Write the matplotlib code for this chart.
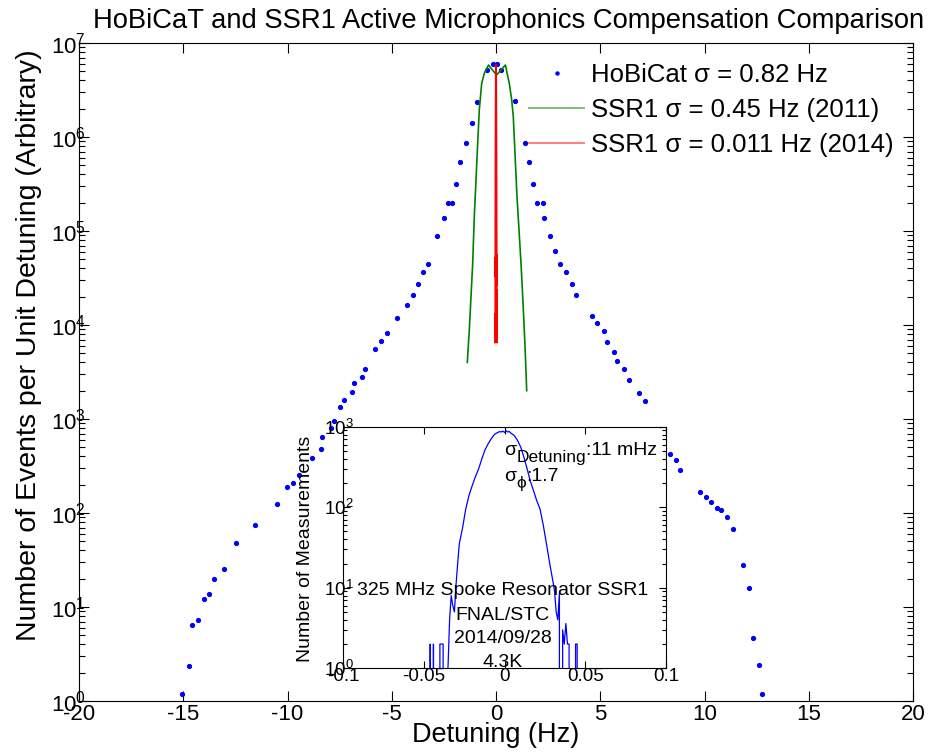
import matplotlib
matplotlib.use("Agg")
import matplotlib.pyplot as plt
import numpy as np
from matplotlib.ticker import FixedLocator, FixedFormatter, LogLocator, NullFormatter

plt.rcParams["font.family"] = ["Liberation Sans", "DejaVu Sans"]
plt.rcParams["mathtext.fontset"] = "custom"
plt.rcParams["mathtext.rm"] = "Liberation Sans"
plt.rcParams["mathtext.it"] = "Liberation Sans:italic"
plt.rcParams["axes.unicode_minus"] = False

# HoBiCaT detuning histogram (Hz, events per unit detuning)
hobicat_x = [-15.06, -14.74, -14.57, -14.28, -14.00, -13.78, -13.54, -13.06, -12.46, -11.54,
             -10.49, -10.01, -9.75, -9.46, -8.81, -8.41, -8.33, -7.91, -7.78, -7.47,
             -7.30, -6.91, -6.83, -6.45, -6.27, -5.79, -5.50, -5.23, -4.76, -4.29,
             -3.98, -3.74, -3.51, -3.27, -2.81, -2.48, -2.32, -2.10, -1.94, -1.71,
             -1.45, -1.15, -0.90, -0.41, -0.13, 0.05, 0.24,
             0.91, 1.38, 1.57, 1.76, 1.95, 2.24, 2.32, 2.59, 2.82, 3.07,
             3.37, 3.66, 3.85, 4.62, 4.86, 5.18, 5.34, 5.65, 5.82, 6.12,
             6.38, 6.86, 7.16, 8.35, 8.65, 8.83, 9.78, 10.07, 10.33, 10.61,
             10.81, 11.09, 11.37, 11.83, 12.13, 12.31, 12.61, 12.77]
hobicat_y = [1.18, 2.37, 6.5, 7.3, 12.1, 13.8, 20, 25.5, 48, 75,
             125, 189, 207, 254, 382, 476, 639, 797, 959, 1330,
             1610, 1950, 2430, 2820, 3380, 5600, 6840, 8160, 11900, 16400,
             21000, 27300, 36400, 44200, 87900, 136500, 198600, 198600, 314000, 542000,
             863000, 1.41e6, 2.34e6, 5.16e6, 5.93e6, 5.93e6, 5.16e6,
             2.43e6, 8.63e5, 5.42e5, 3.14e5, 1.99e5, 1.99e5, 1.37e5, 8.79e4, 6.08e4, 4.42e4,
             3.64e4, 2.73e4, 2.10e4, 1.25e4, 1.04e4, 8570, 6550, 5125, 4110, 3380,
             2600, 1880, 1540, 421, 366, 289, 166, 149, 131, 112,
             107, 90, 67.6, 28.2, 15.8, 4.71, 2.40, 1.19]

# SSR1 2011 curve
ssr1_2011_x = [-1.376, -1.281, -1.199, -1.118, -1.041, -0.959, -0.878, -0.801, -0.686, -0.561,
               -0.36, -0.17, 0.03, 0.24, 0.45, 0.638, 0.753, 0.830, 0.911, 1.007,
               1.103, 1.199, 1.281, 1.357, 1.424, 1.472]
ssr1_2011_y = [4.0e3, 8.85e3, 2.0e4, 4.53e4, 1.42e5, 3.49e5, 8.57e5, 1.94e6, 3.72e6, 4.76e6,
               5.83e6, 5.16e6, 4.57e6, 5.16e6, 5.83e6, 3.72e6, 2.48e6, 1.64e6, 6.71e5, 2.32e5,
               1.03e5, 4.53e4, 2.0e4, 8.85e3, 3.92e3, 2.0e3]

# SSR1 2014 measurement (inset histogram, Hz vs counts)
inset_x = [-0.047, -0.046, -0.045, -0.044, -0.043, -0.041, -0.040, -0.039, -0.038, -0.037,
           -0.036, -0.035, -0.034, -0.033, -0.032, -0.031, -0.030, -0.029, -0.028, -0.026,
           -0.024, -0.022, -0.020, -0.018, -0.016, -0.014, -0.012, -0.010, -0.008, -0.006,
           -0.004, -0.003, -0.002, -0.001, 0.000, 0.001, 0.002, 0.003, 0.004, 0.006,
           0.008, 0.010, 0.012, 0.014, 0.016, 0.018, 0.020, 0.022, 0.024, 0.026,
           0.028, 0.030, 0.031, 0.032, 0.033, 0.034, 0.035, 0.036, 0.037, 0.038,
           0.039, 0.040, 0.041, 0.043, 0.044, 0.045, 0.046]
inset_counts = [0, 2, 0, 2, 0, 0, 2, 2, 2, 0,
                0, 1, 4, 8, 6, 5, 11, 20, 35, 55,
                95, 140, 185, 240, 300, 400, 520, 620, 720, 810,
                850, 870, 860, 880, 850, 890, 860, 870, 830, 780,
                680, 560, 420, 300, 210, 160, 120, 95, 60, 35,
                20, 12, 9, 5, 4, 8.5, 0, 3, 2, 3.6,
                2, 2, 0, 0, 2, 2, 0]
ssr1_2014_scale = 6550  # events per count, matches 2014 peak to HoBiCaT peak

legend_labels = ["HoBiCat σ = 0.82 Hz", "SSR1 σ = 0.45 Hz (2011)", "SSR1 σ = 0.011 Hz (2014)"]
inset_ticks = [-0.1, -0.05, 0, 0.05, 0.1]
inset_tick_labels = ["-0.1", "-0.05", "0", "0.05", "0.1"]
inset_notes = ["325 MHz Spoke Resonator SSR1", "FNAL/STC", "2014/09/28", "4.3K"]
inset_note_y = [8.1, 3.98, 2.04, 1.05]

W, H = 942, 752
fig = plt.figure(figsize=(W / 100, H / 100), dpi=100)
ax = fig.add_axes([79 / W, 1 - 701 / H, 834 / W, 658 / H])

ax.plot(hobicat_x, hobicat_y, ".", color="#0000ff", markersize=5.5, label=legend_labels[0])
ax.plot(ssr1_2011_x, ssr1_2011_y, "-", color="#008000", lw=1.2, label=legend_labels[1])
red_y = np.maximum(np.array(inset_counts, dtype=float), 1) * ssr1_2014_scale
ax.plot(inset_x, red_y, "-", color="#ff0000", lw=1.3, label=legend_labels[2])

ax.set_yscale("log")
ax.set_xlim(-20, 20)
ax.set_ylim(1, 1e7)
ax.set_xticks(np.arange(-20, 21, 5))
ax.yaxis.set_major_locator(LogLocator(base=10, numticks=10))
ax.yaxis.set_minor_locator(LogLocator(base=10, subs=np.arange(2, 10), numticks=20))
ax.yaxis.set_minor_formatter(NullFormatter())
ax.tick_params(which="both", direction="in", top=True, right=True, width=0.8)
ax.tick_params(which="major", length=7, labelsize=16)
ax.tick_params(which="minor", length=4)
ax.tick_params(axis="x", pad=2)
ax.tick_params(axis="y", pad=-5)

ax.set_xlabel("Detuning (Hz)", fontsize=19.5)
ax.xaxis.set_label_coords(0.5, -0.032)
ax.set_ylabel("Number of Events per Unit Detuning (Arbitrary)", fontsize=20.5)
ax.yaxis.set_label_coords(-0.0444, 0.541)

fig.text(509 / W, 1 - 21 / H, "HoBiCaT and SSR1 Active Microphonics Compensation Comparison",
         ha="center", va="center", fontsize=19.7)

leg = ax.legend(loc="upper left", bbox_to_anchor=(529 / W, 1 - 63 / H), bbox_transform=fig.transFigure,
                frameon=False, fontsize=18.5, handlelength=2.15, handletextpad=0.25, labelspacing=0.42,
                borderpad=0, borderaxespad=0, numpoints=1, markerscale=0.8)
legend_line_colors = ["#0000ff", "#7cc07c", "#ff8080"]
for handle, c in zip(leg.get_lines(), legend_line_colors):
    handle.set_color(c)
    handle.set_linewidth(1.4)

# inset
axi = fig.add_axes([343 / W, 1 - 668.3 / H, 323 / W, 241.6 / H])
axi.plot(inset_x, inset_counts, "-", color="#0000ff", lw=0.9)
axi.set_yscale("log")
axi.set_xlim(-0.1, 0.1)
axi.set_ylim(1, 1000)
axi.xaxis.set_major_locator(FixedLocator(inset_ticks))
axi.xaxis.set_major_formatter(FixedFormatter(inset_tick_labels))
axi.yaxis.set_minor_formatter(NullFormatter())
axi.tick_params(which="both", direction="in", top=True, right=True, width=0.8)
axi.tick_params(which="major", length=5, labelsize=13.5)
axi.tick_params(which="minor", length=3)
axi.tick_params(axis="x", pad=0)
axi.tick_params(axis="y", pad=-7.5)
axi.set_ylabel("Number of Measurements", fontsize=14)
axi.yaxis.set_label_coords(-0.09, 0.496)

s1 = axi.text(0.0, 447, "σ", fontsize=14, ha="left", va="baseline")
s1b = axi.annotate("Detuning", xy=(1, 0.55), xycoords=s1, fontsize=12.5, ha="left", va="top")
axi.annotate(":11 mHz", xy=(1, 0), xycoords=(s1b, s1), fontsize=14, ha="left", va="bottom")
s2 = axi.text(0.0, 212, "σ", fontsize=14, ha="left", va="baseline")
s2b = axi.annotate("ϕ", xy=(1, 0.55), xycoords=s2, fontsize=12.5, ha="left", va="top")
axi.annotate(":1.7", xy=(1, 0), xycoords=(s2b, s2), fontsize=14, ha="left", va="bottom")
for note, ny in zip(inset_notes, inset_note_y):
    axi.text(-0.001, ny, note, fontsize=14, ha="center", va="baseline")

fig.savefig("out.png", dpi=100)
